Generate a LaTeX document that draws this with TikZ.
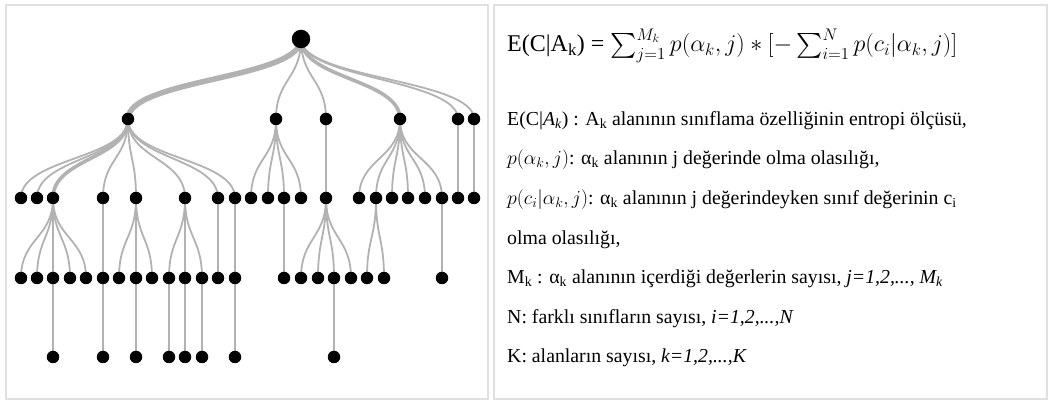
\RequirePackage{fix-cm}
\documentclass[tikz,border=0pt]{standalone}
\usepackage{amsmath}
\usepackage{fontspec}
\setmainfont{Liberation Serif}
\usetikzlibrary{backgrounds}

\begin{document}
\begin{tikzpicture}
[x=1pt,y=-1pt,
vertex/.style={circle,minimum size=12.5pt,inner sep=0pt,fill=black},
rootVertex/.style={minimum size=18.5pt},
edge/.style={draw=black!30,line width=1.8pt,
  to path={(\tikztostart.center) .. controls +(0,40) and +(0,-40) .. (\tikztotarget.center)}},
midEdge/.style={line width=3.6pt},
heavyEdge/.style={line width=5.5pt},
panel/.style={draw=black!12,line width=1.6pt},
formulaLine/.style={anchor=base west,inner sep=0pt,font=\fontsize{24}{28}\selectfont},
infoLine/.style={anchor=base west,inner sep=0pt,font=\fontsize{19.8}{23}\selectfont},
]
\useasboundingbox (0,0) rectangle (1053,403);
\draw[panel] (6,5) rectangle (488,399);
\draw[panel] (494,5) rectangle (1047,399);
% tree
\node[vertex,rootVertex,] (1) at (301 , 39) {}; 
\node[vertex,] (2) at (128 , 119) {}; 
\node[vertex,] (3) at (276 , 119) {}; 
\node[vertex,] (4) at (326 , 119) {}; 
\node[vertex,] (5) at (400 , 119) {}; 
\node[vertex,] (6) at (458 , 119) {}; 
\node[vertex,] (7) at (474 , 119) {}; 
\node[vertex,] (8) at (21 , 198) {}; 
\node[vertex,] (9) at (37 , 198) {}; 
\node[vertex,] (10) at (53 , 198) {}; 
\node[vertex,] (11) at (103 , 198) {}; 
\node[vertex,] (12) at (136 , 198) {}; 
\node[vertex,] (13) at (185 , 198) {}; 
\node[vertex,] (14) at (218 , 198) {}; 
\node[vertex,] (15) at (235 , 198) {}; 
\node[vertex,] (16) at (251 , 198) {}; 
\node[vertex,] (17) at (268 , 198) {}; 
\node[vertex,] (18) at (284 , 198) {}; 
\node[vertex,] (19) at (301 , 198) {}; 
\node[vertex,] (20) at (326 , 198) {}; 
\node[vertex,] (21) at (359 , 198) {}; 
\node[vertex,] (22) at (376 , 198) {}; 
\node[vertex,] (23) at (392 , 198) {}; 
\node[vertex,] (24) at (408 , 198) {}; 
\node[vertex,] (25) at (425 , 198) {}; 
\node[vertex,] (26) at (442 , 198) {}; 
\node[vertex,] (27) at (458 , 198) {}; 
\node[vertex,] (28) at (474 , 198) {}; 
\node[vertex,] (29) at (21 , 278) {}; 
\node[vertex,] (30) at (37 , 278) {}; 
\node[vertex,] (31) at (53 , 278) {}; 
\node[vertex,] (32) at (70 , 278) {}; 
\node[vertex,] (33) at (86 , 278) {}; 
\node[vertex,] (34) at (103 , 278) {}; 
\node[vertex,] (35) at (119 , 278) {}; 
\node[vertex,] (36) at (136 , 278) {}; 
\node[vertex,] (37) at (152 , 278) {}; 
\node[vertex,] (38) at (169 , 278) {}; 
\node[vertex,] (39) at (185 , 278) {}; 
\node[vertex,] (40) at (202 , 278) {}; 
\node[vertex,] (41) at (218 , 278) {}; 
\node[vertex,] (42) at (235 , 278) {}; 
\node[vertex,] (43) at (284 , 278) {}; 
\node[vertex,] (44) at (301 , 278) {}; 
\node[vertex,] (45) at (318 , 278) {}; 
\node[vertex,] (46) at (334 , 278) {}; 
\node[vertex,] (47) at (351 , 278) {}; 
\node[vertex,] (48) at (367 , 278) {}; 
\node[vertex,] (49) at (384 , 278) {}; 
\node[vertex,] (50) at (442 , 278) {}; 
\node[vertex,] (51) at (53 , 357) {}; 
\node[vertex,] (52) at (103 , 357) {}; 
\node[vertex,] (53) at (136 , 357) {}; 
\node[vertex,] (54) at (169 , 357) {}; 
\node[vertex,] (55) at (185 , 357) {}; 
\node[vertex,] (56) at (202 , 357) {}; 
\node[vertex,] (57) at (235 , 357) {}; 
\node[vertex,] (58) at (334 , 357) {}; 
\begin{scope}[on background layer]
\draw[edge,heavyEdge,](1) to (2) ; 
\draw[edge,](1) to (3) ; 
\draw[edge,](1) to (4) ; 
\draw[edge,midEdge,](1) to (5) ; 
\draw[edge,](1) to (6) ; 
\draw[edge,](1) to (7) ; 
\draw[edge,](2) to (8) ; 
\draw[edge,](2) to (9) ; 
\draw[edge,midEdge,](2) to (10) ; 
\draw[edge,](2) to (11) ; 
\draw[edge,](2) to (12) ; 
\draw[edge,](2) to (13) ; 
\draw[edge,](2) to (14) ; 
\draw[edge,](2) to (15) ; 
\draw[edge,](3) to (16) ; 
\draw[edge,](3) to (17) ; 
\draw[edge,](3) to (18) ; 
\draw[edge,](3) to (19) ; 
\draw[edge,](4) to (20) ; 
\draw[edge,](5) to (21) ; 
\draw[edge,](5) to (22) ; 
\draw[edge,](5) to (23) ; 
\draw[edge,](5) to (24) ; 
\draw[edge,](5) to (25) ; 
\draw[edge,](5) to (26) ; 
\draw[edge,](6) to (27) ; 
\draw[edge,](7) to (28) ; 
\draw[edge,](10) to (29) ; 
\draw[edge,](10) to (30) ; 
\draw[edge,](10) to (31) ; 
\draw[edge,](10) to (32) ; 
\draw[edge,](10) to (33) ; 
\draw[edge,](11) to (34) ; 
\draw[edge,](12) to (35) ; 
\draw[edge,](12) to (36) ; 
\draw[edge,](12) to (37) ; 
\draw[edge,](13) to (38) ; 
\draw[edge,](13) to (39) ; 
\draw[edge,](13) to (40) ; 
\draw[edge,](14) to (41) ; 
\draw[edge,](15) to (42) ; 
\draw[edge,](18) to (43) ; 
\draw[edge,](20) to (44) ; 
\draw[edge,](20) to (45) ; 
\draw[edge,](20) to (46) ; 
\draw[edge,](20) to (47) ; 
\draw[edge,](22) to (48) ; 
\draw[edge,](22) to (49) ; 
\draw[edge,](26) to (50) ; 
\draw[edge,](31) to (51) ; 
\draw[edge,](34) to (52) ; 
\draw[edge,](36) to (53) ; 
\draw[edge,](38) to (54) ; 
\draw[edge,](39) to (55) ; 
\draw[edge,](40) to (56) ; 
\draw[edge,](42) to (57) ; 
\draw[edge,](46) to (58) ; 
\end{scope}
% legend text
\node[formulaLine] (entropy) at (507 , 52) {E(C|A\textsubscript{k}) = $\sum_{j=1}^{M_k} p(\alpha_k,j) * [-\sum_{i=1}^{N} p(c_i|\alpha_k,j)]$};
\node[infoLine] (l1) at (507 , 126) {E(C|\textit{A\textsubscript{k}}) : A\textsubscript{k} alanının sınıflama özelliğinin entropi ölçüsü,};
\node[infoLine] (l2) at (507 , 165) {$p(\alpha_k,j)$: α\textsubscript{k} alanının j değerinde olma olasılığı,};
\node[infoLine] (l3) at (507 , 205) {$p(c_i|\alpha_k,j)$: α\textsubscript{k} alanının j değerindeyken sınıf değerinin c\textsubscript{i}};
\node[infoLine] (l4) at (507 , 245) {olma olasılığı,};
\node[infoLine] (l5) at (507 , 284) {M\textsubscript{k} : α\textsubscript{k} alanının içerdiği değerlerin sayısı, \textit{j=1,2,..., M\textsubscript{k}}};
\node[infoLine] (l6) at (507 , 324) {N: farklı sınıfların sayısı, \textit{i=1,2,...,N}};
\node[infoLine] (l7) at (507 , 363) {K: alanların sayısı, \textit{k=1,2,...,K}};
\end{tikzpicture}
\end{document}
